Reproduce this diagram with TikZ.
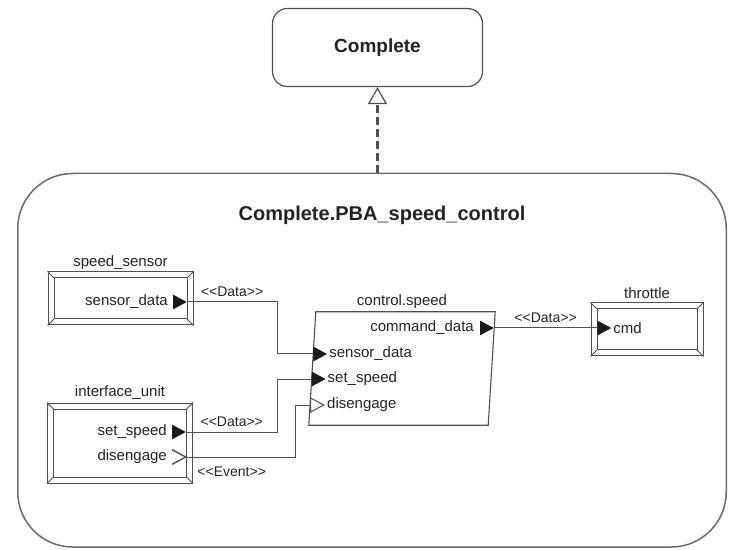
\documentclass[tikz,border=0pt]{standalone}
\usepackage{fontspec}
\setmainfont{Liberation Sans}
\usetikzlibrary{shapes.geometric,arrows.meta,positioning}
\definecolor{line}{RGB}{80,80,80}
\definecolor{ink}{RGB}{35,35,35}
\newcommand{\stereo}[1]{<\kern0pt<#1>\kern0pt>}

\begin{document}
\begin{tikzpicture}[x=1pt,y=1pt,
  txt/.style={font=\fontsize{15}{17}\selectfont,text=ink,inner sep=1pt},
  head/.style={font=\fontsize{20}{24}\selectfont\bfseries,text=ink},
  frame/.style={draw=line!85,line width=1.5pt,rounded corners=55pt,
                minimum width=708.5pt,minimum height=373.5pt},
  impl/.style={draw=line,line width=1.2pt,rounded corners=15pt,
               minimum width=210pt,minimum height=78pt,
               font=\fontsize{19}{23}\selectfont\bfseries,text=ink},
  dev/.style={draw=line,line width=1pt,minimum width=145pt},
  bevel/.style={draw=line,line width=1pt},
  dport/.style={isosceles triangle,isosceles triangle stretches,
                minimum width=14pt,minimum height=13pt,inner sep=0pt,
                fill=black!90,draw=black!90},
  eport/.style={isosceles triangle,isosceles triangle stretches,
                minimum width=14pt,minimum height=13pt,inner sep=0pt,
                draw=line,line width=1pt,fill=white},
  chev/.style={isosceles triangle,isosceles triangle stretches,
               minimum width=14pt,minimum height=13pt,inner sep=0pt},
  wire/.style={draw=line,line width=1pt},
  lbl/.style={font=\fontsize{14}{16}\selectfont,text=ink,inner sep=1pt},
  dep/.style={draw=line,line width=3pt,dash pattern=on 8pt off 4pt,
              -{Triangle[open,length=17pt,width=19pt,line width=1.2pt]}}
]
  \useasboundingbox (0,0) rectangle (730,549);

  \node[impl] (cmp) at (377.5,501.5) {Complete};
  \node[frame] (pba) at (372,188.75) {};
  \node[head] (ttl) at (382,334) {Complete.PBA\_speed\_control};

% ---------------- Devices ----------------

  \node[dev,minimum height=53pt] (ss) at (120.5,250.5) {};
  \node[txt,above=1pt of ss] (sslbl) {speed\_sensor};

  \node[dev,minimum height=80pt] (iu) at (120,106) {};
  \node[txt,above=2pt of iu] (iulbl) {interface\_unit};

  \node[dev,minimum width=112pt,minimum height=53pt] (th) at (647,219.5) {};
  \node[txt,above=3pt of th] (thlbl) {throttle};

  \foreach \n in {ss,iu,th}{
    \draw[bevel] ([shift={(6.5,6.5)}]\n.south west) rectangle ([shift={(-6.5,-6.5)}]\n.north east);
    \draw[bevel] (\n.north west) -- +(6.5,-6.5);
    \draw[bevel] (\n.north east) -- +(-6.5,-6.5);
    \draw[bevel] (\n.south west) -- +(6.5,6.5);
    \draw[bevel] (\n.south east) -- +(-6.5,6.5);
  }

% ---------------- Thread ----------------

  \node[minimum width=179pt,minimum height=113pt] (ctrl) at (402,180.5) {};
  \node[txt,above=2pt of ctrl] (ctlbl) {control.speed};
  \draw[wire,line width=1.1pt] ([xshift=3.5pt]ctrl.north west)
    -- ([xshift=3.5pt]ctrl.north east) -- ([xshift=-3.5pt]ctrl.south east)
    -- ([xshift=-3.5pt]ctrl.south west) -- cycle;

% ---------------- Ports ----------------

  \node[dport,anchor=lower side] (ssout) at (173,247) {};
  \node[txt,left=4pt of ssout] {sensor\_data};

  \node[dport,anchor=lower side] (iuset) at (172,117) {};
  \node[txt,left=4pt of iuset] {set\_speed};
  \node[chev,anchor=lower side] (iudis) at (172,92) {};
  \draw[wire,line width=1.4pt] (iudis.left corner) -- (iudis.apex) -- (iudis.right corner);
  \node[txt,left=4pt of iudis] {disengage};

  \node[dport,anchor=lower side] (ctin) at (313.4,195) {};
  \node[txt,right=1pt of ctin] {sensor\_data};
  \node[dport,anchor=lower side] (ctset) at (311.8,170) {};
  \node[txt,right=1pt of ctset] {set\_speed};
  \node[eport,anchor=lower side] (ctdis) at (310.2,144) {};
  \node[txt,right=1pt of ctdis] {disengage};
  \node[dport,anchor=lower side] (ctcmd) at (480,221) {};
  \node[txt,left=5pt of ctcmd] {command\_data};

  \node[dport,anchor=lower side] (thcmd) at (597.5,221) {};
  \node[txt,right=1pt of thcmd] {cmd};

% ---------------- Connections ----------------

  \draw[wire] (ssout.apex) -| ([xshift=-36pt]ctin.lower side)
    node[lbl,pos=.25,above=3.5pt] {\stereo{Data}} -- (ctin.lower side);
  \draw[wire] (iuset.apex) -| ([xshift=-34pt]ctset.lower side)
    node[lbl,pos=.25,above=3.5pt] {\stereo{Data}} -- (ctset.lower side);
  \draw[wire] (iudis.apex) -| ([xshift=-15pt]ctdis.lower side)
    node[lbl,pos=.21,below=8.5pt] {\stereo{Event}} -- (ctdis.lower side);
  \draw[wire] (ctcmd.apex) -- (thcmd.lower side)
    node[lbl,midway,above=3.5pt] {\stereo{Data}};

  \draw[dep] (pba.north -| cmp.south) -- (cmp.south);
\end{tikzpicture}
\end{document}
